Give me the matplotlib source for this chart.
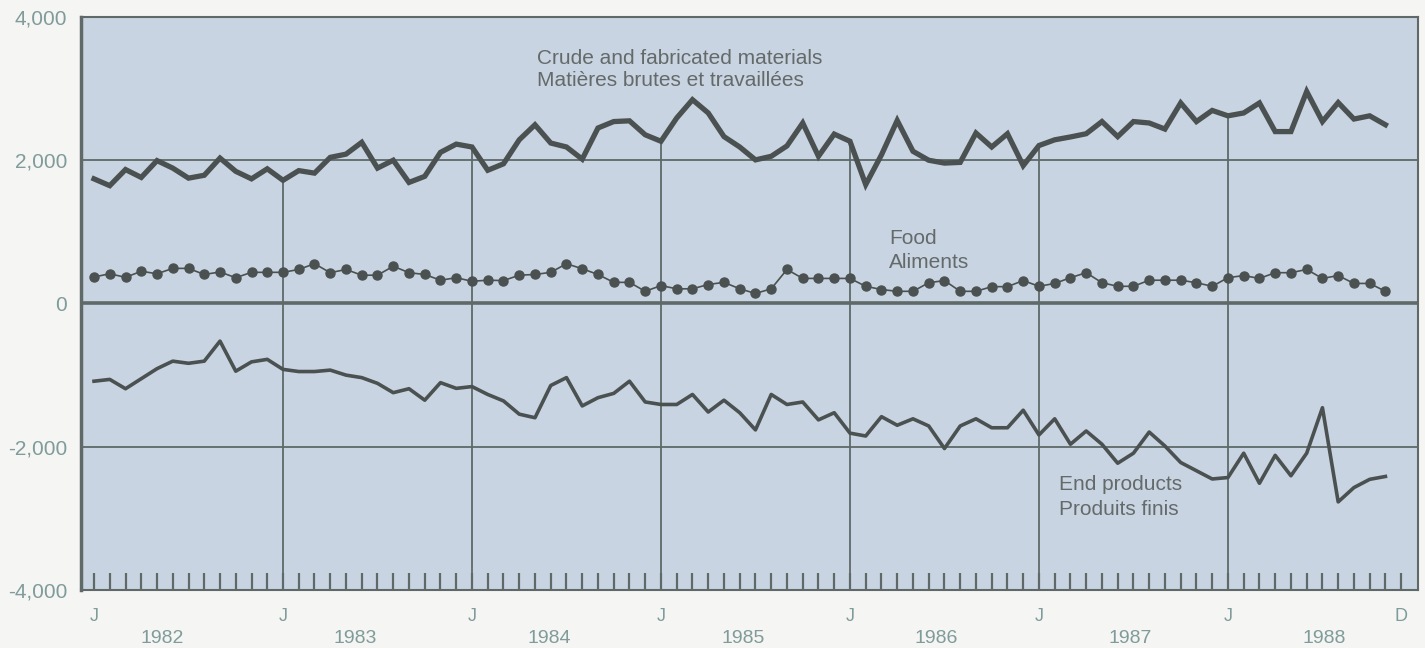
import numpy as np
import matplotlib
matplotlib.use("Agg")
import matplotlib.pyplot as plt
from matplotlib.transforms import blended_transform_factory

plt.rcParams['font.family'] = ['Liberation Sans', 'DejaVu Sans']

# monthly values, Jan 1982 .. Nov 1988
crude = [1740, 1645, 1870, 1760, 1995, 1890, 1750, 1790, 2030, 1845, 1740, 1880,
         1720, 1855, 1820, 2040, 2085, 2250, 1890, 2000, 1690, 1775, 2110, 2225,
         2185, 1860, 1950, 2285, 2495, 2240, 2185, 2015, 2450, 2540, 2550, 2355,
         2265, 2590, 2845, 2660, 2330, 2185, 2005, 2055, 2200, 2520, 2055, 2365,
         2265, 1660, 2075, 2555, 2125, 2000, 1960, 1970, 2380, 2185, 2370, 1925,
         2205, 2285, 2325, 2370, 2540, 2330, 2540, 2520, 2435, 2800, 2540, 2695,
         2620, 2660, 2800, 2400, 2400, 2960, 2540, 2805, 2575, 2620, 2495]
food = [370, 415, 365, 450, 415, 490, 490, 405, 440, 360, 435, 435,
        435, 475, 555, 430, 475, 395, 395, 520, 430, 405, 325, 360,
        310, 325, 320, 395, 405, 435, 555, 485, 405, 295, 295, 170,
        250, 205, 205, 265, 295, 205, 140, 205, 475, 350, 350, 350,
        350, 240, 195, 170, 170, 290, 320, 170, 170, 235, 235, 320,
        240, 280, 360, 430, 290, 240, 240, 325, 325, 325, 290, 240,
        360, 390, 350, 430, 430, 475, 350, 390, 280, 280, 170]
end_products = [-1085, -1060, -1190, -1050, -910, -805, -835, -805, -525, -945, -815, -780,
                -920, -950, -950, -930, -1000, -1035, -1115, -1245, -1190, -1350, -1105, -1185,
                -1160, -1270, -1360, -1545, -1595, -1145, -1035, -1430, -1315, -1255, -1085, -1375,
                -1410, -1410, -1270, -1515, -1350, -1525, -1765, -1270, -1410, -1375, -1625, -1525,
                -1810, -1850, -1580, -1700, -1610, -1710, -2025, -1710, -1610, -1735, -1735, -1490,
                -1835, -1610, -1965, -1780, -1965, -2230, -2090, -1795, -1990, -2220, -2335, -2450,
                -2430, -2090, -2510, -2120, -2405, -2090, -1455, -2770, -2570, -2455, -2415]

years = [1982, 1983, 1984, 1985, 1986, 1987, 1988]
yticks = [4000, 2000, 0, -2000, -4000]
ytick_labels = ['4,000', '2,000', '0', '-2,000', '-4,000']

line_col = '#4b5150'
grid_col = '#5e6968'
text_col = '#646a6a'
tick_col = '#7f9b9a'

months = np.arange(len(crude))
n_months = 12 * len(years)

fig = plt.figure(figsize=(14.25, 6.48), dpi=100, facecolor='#f5f5f3')
ax = fig.add_axes([0.0568, 0.0895, 0.9382, 0.8843])
ax.set_facecolor('#c8d4e2')

ax.set_xlim(-0.83, n_months + 0.06)
ax.set_ylim(-4000, 4000)

# grid
ax.axhline(2000, color=grid_col, lw=1.3, zorder=1)
ax.axhline(-2000, color=grid_col, lw=1.3, zorder=1)
ax.axhline(0, color=grid_col, lw=2.6, zorder=1)
jan = months[12::12]
ax.vlines(jan, -4000, [crude[j] for j in jan], color=grid_col, lw=1.3, zorder=1)

# series
ax.plot(months, crude, color=line_col, lw=3.8, solid_joinstyle='miter', zorder=3)
ax.plot(months, food, color=line_col, lw=1.2, marker='o', ms=6.5, zorder=3)
ax.plot(months, end_products, color=line_col, lw=2.6, zorder=3)

# labels on the chart
ax.text(28.1, 3270, 'Crude and fabricated materials\nMatières brutes et travaillées',
        fontsize=15, color=text_col, va='center', linespacing=1.2)
ax.text(50.5, 740, 'Food\nAliments', fontsize=15, color=text_col, va='center', linespacing=1.35)
ax.text(61.3, -2700, 'End products\nProduits finis', fontsize=15, color=text_col,
        va='center', linespacing=1.35)

# axes
for side in ['top', 'right', 'bottom']:
    ax.spines[side].set_color(grid_col)
    ax.spines[side].set_linewidth(1.5)
ax.spines['left'].set_color(grid_col)
ax.spines['left'].set_linewidth(2.5)

ax.set_yticks(yticks)
ax.set_yticklabels(ytick_labels)
ax.tick_params(axis='y', length=0, pad=10, labelsize=15, labelcolor=tick_col)

tick_pos = np.arange(n_months)
tick_lab = ['J' if m % 12 == 0 else '' for m in tick_pos]
tick_lab[-1] = 'D'
ax.set_xticks(tick_pos)
ax.set_xticklabels(tick_lab)
ax.tick_params(axis='x', direction='in', length=12, width=1.6, color=grid_col,
               pad=13, labelsize=13, labelcolor=tick_col)

trans = blended_transform_factory(ax.transData, ax.transAxes)
for k, yr in enumerate(years):
    ax.text(4.3 + 12.3 * k, -0.085, str(yr), transform=trans, ha='center', va='center',
            fontsize=14, color=tick_col)

fig.savefig('out.png', dpi=100, facecolor=fig.get_facecolor())
